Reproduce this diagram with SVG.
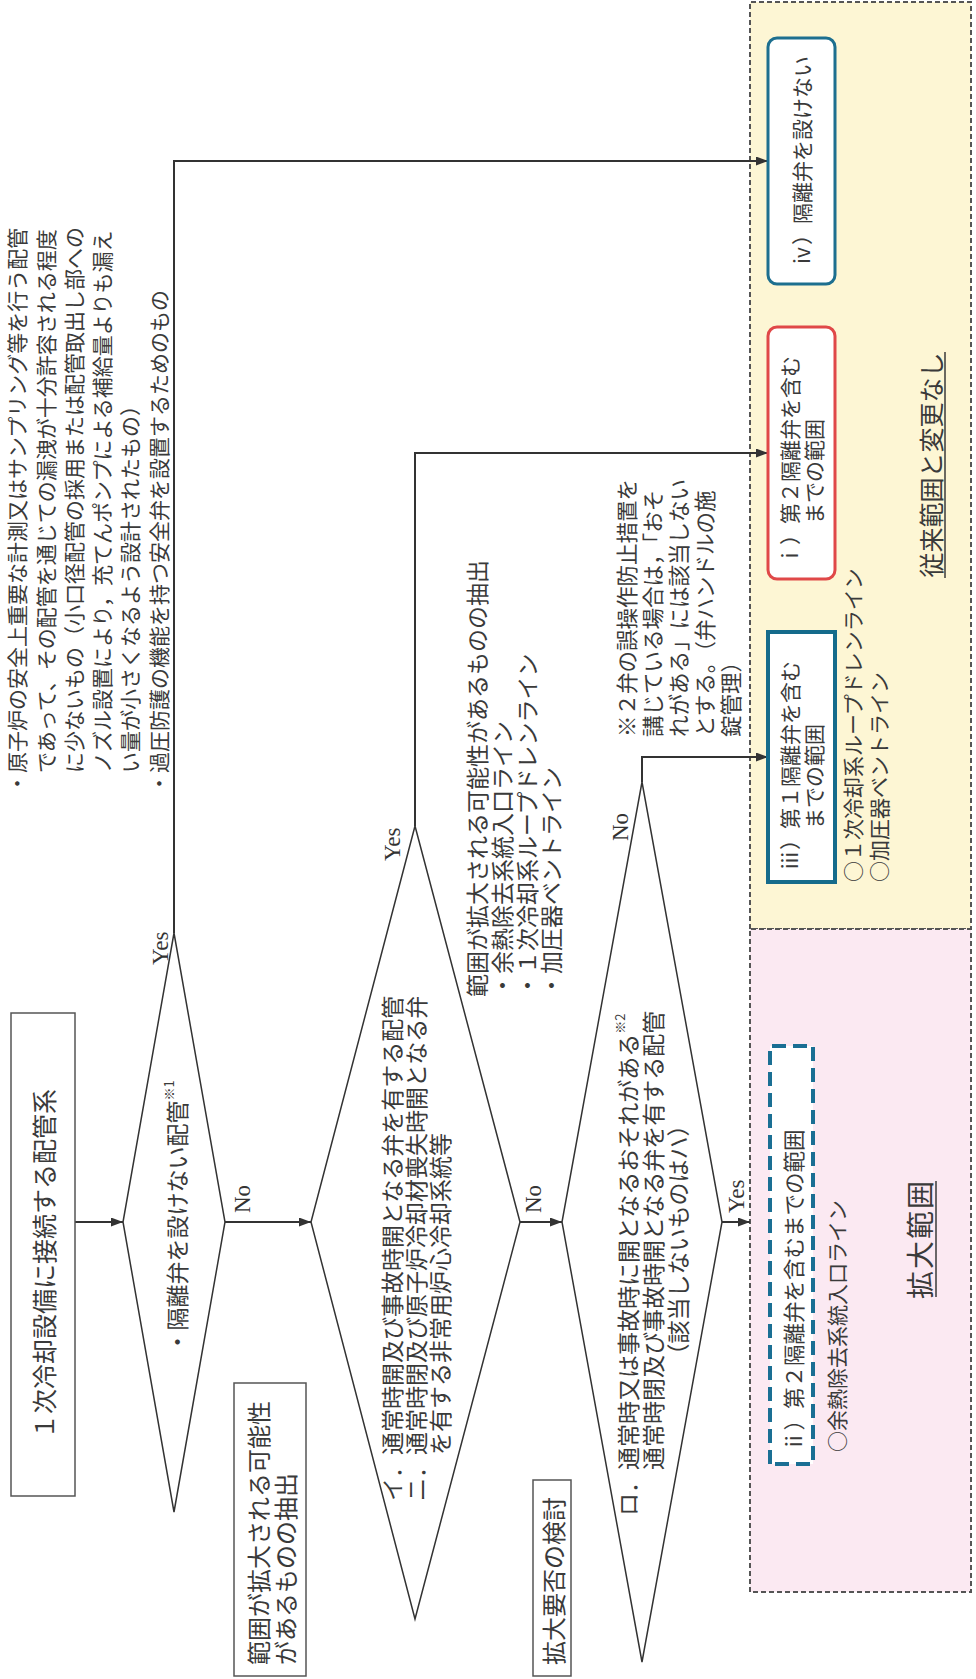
<svg xmlns="http://www.w3.org/2000/svg" width="976" height="1679" viewBox="0 0 976 1679">
<defs>
<marker id="ah" viewBox="0 0 12 9" markerWidth="12" markerHeight="9" refX="12" refY="4.5" orient="auto" markerUnits="userSpaceOnUse"><path d="M0,0 L12,4.5 L0,9 z" fill="#333"/></marker>
</defs>
<style>
.t{font-family:"Noto Sans CJK JP","Noto Sans CJK SC",sans-serif;fill:#3a3a3a;dominant-baseline:central;font-size:23px}
.n{font-size:21px}
.m{font-size:21.5px}
.s{font-family:"Liberation Serif",serif;fill:#333;font-size:23px}
.ln{fill:none;stroke:#333;stroke-width:2}
.box{fill:#fff;stroke:#555;stroke-width:1.5}
.dia{fill:#fff;stroke:#333;stroke-width:1.5}
.reg{stroke:#555;stroke-width:2;stroke-dasharray:5 3}
.ul{stroke:#3a3a3a;stroke-width:1.5}
</style>
<rect width="976" height="1679" fill="#fff"/>
<g transform="translate(0,1679) rotate(-90)">
  <g id="region-conventional">
    <rect class="reg" x="750" y="750" width="927" height="221" fill="#fdf6d4"/>
    <text class="t" x="1214" y="930" text-anchor="middle" style="font-size:25px">従来範囲と変更なし</text>
    <line class="ul" x1="1101" y1="945" x2="1327" y2="945"/>
  </g>
  <g id="region-expanded">
    <rect class="reg" x="87" y="750" width="663" height="221" fill="#fbe9f2"/>
    <text class="t" x="440" y="919" text-anchor="middle" style="font-size:28px;letter-spacing:2px">拡大範囲</text>
    <line class="ul" x1="382" y1="936" x2="498" y2="936"/>
  </g>
  <g id="notes-top">
    <text class="t n" x="885" y="16">・原子炉の安全上重要な計測又はサンプリング等を行う配管</text>
    <text class="t n" x="906" y="45">であって、その配管を通じての漏洩が十分許容される程度</text>
    <text class="t n" x="906" y="73">に少ないもの（小口径配管の採用または配管取出し部への</text>
    <text class="t n" x="906" y="101">ノズル設置により，充てんポンプによる補給量よりも漏え</text>
    <text class="t n" x="906" y="129">い量が小さくなるよう設計されたもの）</text>
    <text class="t n" x="885" y="158">・過圧防護の機能を持つ安全弁を設置するためのもの</text>
  </g>
  <g id="connectors" class="ln">
    <path d="M457,75 V123" marker-end="url(#ah)"/>
    <path d="M457,225 V311" marker-end="url(#ah)"/>
    <path d="M457,520 V562" marker-end="url(#ah)"/>
    <path d="M457,722 V750" marker-end="url(#ah)"/>
    <path d="M746,174 H1518 V768" marker-end="url(#ah)"/>
    <path d="M853,415 H1226 V768" marker-end="url(#ah)"/>
    <path d="M897,642 H922 V768" marker-end="url(#ah)"/>
  </g>
  <g id="labels">
    <text class="s" x="714" y="168">Yes</text>
    <text class="s" x="466" y="250">No</text>
    <text class="s" x="818" y="400">Yes</text>
    <text class="s" x="466" y="541">No</text>
    <text class="s" x="838" y="628">No</text>
    <text class="s" x="466" y="744">Yes</text>
  </g>
  <g id="start">
    <rect class="box" x="183" y="11" width="483" height="64"/>
    <text class="t" x="415" y="43" text-anchor="middle" style="font-size:25px">１次冷却設備に接続する配管系</text>
  </g>
  <g id="decision1">
    <polygon class="dia" points="167,174 457,123 746,174 457,225"/>
    <text class="t" x="462" y="176" text-anchor="middle">・隔離弁を設けない配管<tspan style="font-size:13px" dy="-8">※1</tspan></text>
  </g>
  <g id="step-extract">
    <rect class="box" x="3" y="234" width="293" height="72"/>
    <text class="t" x="14" y="257" style="font-size:24px">範囲が拡大される可能性</text>
    <text class="t" x="14" y="284" style="font-size:24px">があるものの抽出</text>
  </g>
  <g id="decision2">
    <polygon class="dia" points="60,415 457,311 853,415 457,520"/>
    <text class="t" x="178" y="391">イ．通常時開及び事故時開となる弁を有する配管</text>
    <text class="t" x="178" y="415">ニ．通常時閉及び原子炉冷却材喪失時開となる弁</text>
    <text class="t" x="224" y="439">を有する非常用炉心冷却系統等</text>
  </g>
  <g id="extract-list">
    <text class="t" x="682" y="476">範囲が拡大される可能性があるものの抽出</text>
    <text class="t" x="682" y="501">・余熱除去系統入口ライン</text>
    <text class="t" x="682" y="526">・１次冷却系ループドレンライン</text>
    <text class="t" x="682" y="550">・加圧器ベントライン</text>
  </g>
  <g id="step-review">
    <rect class="box" x="3" y="533" width="196" height="38"/>
    <text class="t" x="14" y="552" style="font-size:24px">拡大要否の検討</text>
  </g>
  <g id="decision3">
    <polygon class="dia" points="17,642 457,562 897,642 457,722"/>
    <text class="t" x="163" y="627">ロ．通常時又は事故時に開となるおそれがある<tspan style="font-size:13px" dy="-8">※2</tspan></text>
    <text class="t" x="209" y="652">通常時閉及び事故時開となる弁を有する配管</text>
    <text class="t" x="439" y="677" text-anchor="middle">（該当しないものはハ）</text>
  </g>
  <g id="note2">
    <text class="t m" x="942" y="625">※２弁の誤操作防止措置を</text>
    <text class="t m" x="942" y="651">講じている場合は，「おそ</text>
    <text class="t m" x="942" y="677">れがある」には該当しない</text>
    <text class="t m" x="942" y="703">とする。（弁ハンドルの施</text>
    <text class="t m" x="942" y="729">錠管理）</text>
  </g>
  <g id="result-iv">
    <rect x="1395" y="768" width="246" height="67" rx="9" fill="#fff" stroke="#1d6f8f" stroke-width="3"/>
    <text class="t n" x="1518" y="801" text-anchor="middle">ⅳ）隔離弁を設けない</text>
  </g>
  <g id="result-i">
    <rect x="1100" y="768" width="252" height="67" rx="9" fill="#fff" stroke="#e04848" stroke-width="3"/>
    <text class="t n" x="1113" y="789">ⅰ）第２隔離弁を含む</text>
    <text class="t n" x="1155" y="813">までの範囲</text>
  </g>
  <g id="result-iii">
    <rect x="797" y="768" width="250" height="67" fill="#fff" stroke="#156b8b" stroke-width="4"/>
    <text class="t n" x="808" y="789">ⅲ）第１隔離弁を含む</text>
    <text class="t n" x="850" y="813">までの範囲</text>
  </g>
  <g id="conventional-lines">
    <text class="t n" x="797" y="852">○１次冷却系ループドレンライン</text>
    <text class="t n" x="797" y="878">○加圧器ベントライン</text>
  </g>
  <g id="result-ii">
    <rect x="215" y="770" width="418" height="43" fill="#fff" stroke="#1a6f94" stroke-width="4" stroke-dasharray="14 7"/>
    <text class="t m" x="227" y="792">ⅱ）第２隔離弁を含むまでの範囲</text>
    <text class="t n" x="227" y="836">○余熱除去系統入口ライン</text>
  </g>
</g>
</svg>
